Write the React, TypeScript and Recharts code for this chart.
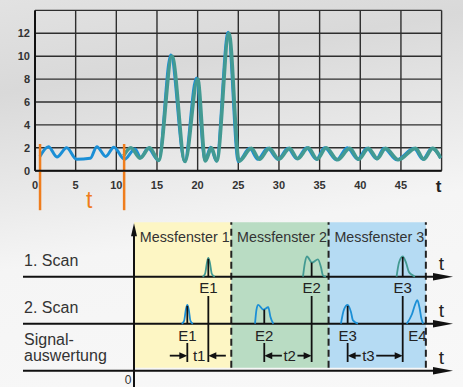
import {
  LineChart,
  ComposedChart,
  Line,
  XAxis,
  YAxis,
  CartesianGrid,
  ReferenceLine,
  ReferenceDot,
  ReferenceArea,
} from 'recharts';

// ---- oberes Diagramm: Signal über t ----
const xTicks = [0, 5, 10, 15, 20, 25, 30, 35, 40, 45, 50];
const yTicks = [0, 2, 4, 6, 8, 10, 12, 14];

// Scan 2 (blau)
const blueT = [0.6, 1.65, 2.7, 3.9, 5.1, 6.8, 7.6, 8.7, 9.7, 11.0, 12.3, 13.0, 13.9, 15.2, 16.7, 18.4, 19.85, 20.9, 21.6, 22.3, 23.75, 25.0, 26.4, 27.4, 28.6, 29.9, 31.1, 32.2, 33.4, 34.6, 35.6, 37.1, 38.4, 39.7, 40.8, 42.0, 42.9, 44.5, 46.6, 47.7, 48.8, 49.9];
const blueV = [1.25, 2.1, 1.2, 2.0, 1.0, 1.08, 2.1, 1.25, 2.05, 1.0, 1.9, 1.15, 1.95, 0.9, 10.1, 0.8, 8.1, 0.9, 2.05, 0.85, 12.1, 0.8, 1.95, 1.0, 1.95, 1.0, 1.95, 1.05, 2.0, 1.0, 2.0, 0.95, 2.0, 1.0, 1.95, 1.05, 1.95, 0.95, 1.95, 1.0, 1.95, 1.1];

// Scan 1 (petrol)
const tealT = [10.9, 11.8, 12.9, 14.1, 15.2, 16.85, 18.45, 20.0, 20.95, 21.7, 22.35, 23.85, 25.1, 26.6, 27.6, 28.8, 30.0, 31.3, 32.3, 33.6, 34.7, 35.8, 37.2, 38.7, 39.8, 41.0, 42.1, 43.1, 44.7, 46.8, 47.8, 48.9, 49.9];
const tealV = [1.3, 2.0, 1.1, 2.0, 0.9, 10.0, 0.8, 8.0, 0.85, 2.0, 0.85, 12.0, 0.85, 1.95, 1.0, 1.95, 1.0, 1.95, 1.05, 2.0, 1.0, 2.0, 0.95, 1.95, 1.0, 1.95, 1.05, 1.95, 0.95, 1.95, 1.0, 1.95, 1.1];

const tWindow = [0.62, 10.96];

// ---- unteres Schema: Messfenster ----
const windowNames = ['Messfenster 1', 'Messfenster 2', 'Messfenster 3'];
const windowFrom = [0, 10, 20];
const windowTo = [10, 20, 30];
const windowColors = ['#fdf6c4', '#b9dcc3', '#b5dbf3'];
const scanLevels = [2, 1, 0];
const rowLabels = ['1. Scan', '2. Scan', 'Signal-', 'auswertung'];
const rowLabelY = [2.36, 1.36, 0.66, 0.32];

// Peaks 1. Scan
const e1s1X = [7.05, 7.3, 7.5, 7.64, 7.8, 8.0, 8.3];
const e1s1Y = [2.0, 2.06, 2.3, 2.4, 2.3, 2.06, 2.0];
const e2s1X = [17.37, 17.57, 17.78, 18.29, 18.91, 19.22, 19.42, 19.73];
const e2s1Y = [2.0, 2.3, 2.43, 2.3, 2.37, 2.2, 2.03, 2.0];
const e3s1X = [26.99, 27.24, 27.62, 27.96, 28.26, 28.57, 28.88];
const e3s1Y = [2.0, 2.3, 2.43, 2.3, 2.1, 2.04, 2.0];
// Peaks 2. Scan
const e1s2X = [4.9, 5.15, 5.33, 5.48, 5.63, 5.8, 6.05];
const e1s2Y = [1.0, 1.06, 1.3, 1.4, 1.3, 1.06, 1.0];
const e2s2X = [12.44, 12.59, 12.77, 13.29, 13.8, 14.02, 14.32];
const e2s2Y = [1.0, 1.3, 1.4, 1.3, 1.35, 1.15, 1.0];
const e3s2X = [21.27, 21.58, 21.96, 22.3, 22.51, 23.02];
const e3s2Y = [1.0, 1.3, 1.4, 1.25, 1.07, 1.0];
const e4s2X = [28.03, 28.57, 28.88, 29.12, 29.34, 29.55, 29.73];
const e4s2Y = [1.0, 1.2, 1.4, 1.5, 1.35, 1.1, 1.0];

const scan1Names = ['E1', 'E2', 'E3'];
const scan1Pos = [7.64, 18.26, 27.62];
const scan1Top = [2.38, 2.3, 2.42];
const scan2Names = ['E1', 'E2', 'E3', 'E4'];
const scan2Pos = [5.48, 13.39, 21.96, 29.14];
const scan2Top = [1.38, 1.3, 1.38];

const tNames = ['t1', 't2', 't3'];
const tFrom = [5.48, 13.39, 21.96];
const tTo = [7.64, 18.26, 27.62];
const tLabelX = [6.7, 16.0, 24.1];

const BLUE = '#1b8fd6';
const TEAL = '#439a92';
const FONT = '"Liberation Sans", Arial, sans-serif';

const toPts = (xs: number[], ys: number[]) => xs.map((x, i) => ({ x, y: ys[i] }));

// Linie mit Pfeilspitze am Ende
function arrow(headLen: number, headHalf: number, width: number) {
  return (p: any) => {
    const { x1, y1, x2, y2 } = p;
    const dx = x2 - x1;
    const dy = y2 - y1;
    const len = Math.hypot(dx, dy) || 1;
    const ux = dx / len;
    const uy = dy / len;
    const bx = x2 - ux * headLen;
    const by = y2 - uy * headLen;
    const px = -uy * headHalf;
    const py = ux * headHalf;
    return (
      <g>
        <line x1={x1} y1={y1} x2={bx + ux} y2={by + uy} stroke="#111" strokeWidth={width} />
        <polygon points={`${x2},${y2} ${bx + px},${by + py} ${bx - px},${by - py}`} fill="#111" />
      </g>
    );
  };
}

const txt = (value: string, size: number, color: string, anchor: string = 'middle', weight: string = 'normal') => (p: any) => (
  <text x={p.cx} y={p.cy} dy="0.36em" textAnchor={anchor} fontSize={size} fill={color} fontWeight={weight} fontFamily={FONT}>
    {value}
  </text>
);

const XTick = (p: any) => {
  const v = p.payload.value;
  if (v === 50) {
    return (
      <text x={p.x - 3} y={p.y + 21} textAnchor="middle" fontSize={17} fontWeight="bold" fill="#222" fontFamily={FONT}>
        t
      </text>
    );
  }
  return (
    <text x={p.x} y={p.y + 18} textAnchor="middle" fontSize={11} fontWeight="bold" fill="#333" fontFamily={FONT}>
      {v}
    </text>
  );
};

const YTick = (p: any) => {
  const v = p.payload.value;
  if (v === 14) return <g />;
  return (
    <text x={p.x - 5} y={p.y + 4} textAnchor="end" fontSize={11} fontWeight="bold" fill="#333" fontFamily={FONT}>
      {v}
    </text>
  );
};

export default function App() {
  const blueData = toPts(blueT, blueV);
  const tealData = toPts(tealT, tealV);

  const peaks1 = [toPts(e1s1X, e1s1Y), toPts(e2s1X, e2s1Y), toPts(e3s1X, e3s1Y)];
  const peaks2 = [toPts(e1s2X, e1s2Y), toPts(e2s2X, e2s2Y), toPts(e3s2X, e3s2Y), toPts(e4s2X, e4s2Y)];

  return (
    <div
      style={{
        position: 'absolute',
        left: 0,
        top: 0,
        width: 463,
        height: 387,
        overflow: 'hidden',
        fontFamily: FONT,
        background: 'linear-gradient(170deg, #e2e2e2 0%, #d9d9d9 20%, #e9e9e9 42%, #f5f5f5 58%, #f8f8f8 100%)',
      }}
    >
      <div style={{ position: 'absolute', left: 0, top: 0 }}>
        <LineChart width={463} height={222} margin={{ top: 10.4, right: 21.4, bottom: 21.3, left: 5 }}>
          <CartesianGrid stroke="#2e2e2e" strokeWidth={1.4} />
          <XAxis
            type="number"
            dataKey="x"
            domain={[0, 50]}
            ticks={xTicks}
            interval={0}
            allowDataOverflow
            tickLine={false}
            tickSize={0}
            tickMargin={0}
            height={30}
            axisLine={{ stroke: '#111', strokeWidth: 2 }}
            tick={XTick}
          />
          <YAxis
            type="number"
            domain={[0, 14]}
            ticks={yTicks}
            interval={0}
            allowDataOverflow
            tickLine={false}
            tickSize={0}
            tickMargin={0}
            width={30}
            axisLine={{ stroke: '#111', strokeWidth: 2 }}
            tick={YTick}
          />
          <Line data={blueData} dataKey="y" type="monotone" stroke={BLUE} strokeWidth={3} dot={false} isAnimationActive={false} />
          <Line data={tealData} dataKey="y" type="monotone" stroke={TEAL} strokeWidth={3.6} dot={false} isAnimationActive={false} />
          {tWindow.map((x) => (
            <ReferenceLine
              key={x}
              segment={[{ x, y: 2.33 }, { x, y: -3.45 }]}
              stroke="#ef7d1d"
              strokeWidth={2.5}
              ifOverflow="visible"
            />
          ))}
          <ReferenceDot x={6.65} y={-2.55} r={0} ifOverflow="visible" shape={txt('t', 23, '#ef7d1d')} />
        </LineChart>
      </div>

      <div style={{ position: 'absolute', left: 0, top: 210 }}>
        <ComposedChart width={463} height={177} margin={{ top: 5, right: 10, bottom: 0, left: 23 }}>
          <XAxis type="number" dataKey="x" domain={[-11.41, 32.79]} allowDataOverflow hide />
          <YAxis type="number" domain={[-0.347, 3.313]} allowDataOverflow hide />
          {windowNames.map((n, i) => (
            <ReferenceArea
              key={n}
              x1={windowFrom[i]}
              x2={windowTo[i]}
              y1={0.06}
              y2={3.16}
              fill={windowColors[i]}
              fillOpacity={1}
              stroke="none"
              ifOverflow="visible"
            />
          ))}
          {windowTo.map((x) => (
            <ReferenceLine
              key={'d' + x}
              segment={[{ x, y: 0.06 }, { x, y: 3.16 }]}
              stroke="#222"
              strokeWidth={2}
              strokeDasharray="7 4"
              ifOverflow="visible"
            />
          ))}
          {windowNames.map((n, i) => (
            <ReferenceDot key={'l' + n} x={windowFrom[i] + 0.6} y={2.85} r={0} ifOverflow="visible" shape={txt(n, 14.3, '#333', 'start')} />
          ))}
          {scanLevels.map((lv) => (
            <ReferenceLine
              key={'b' + lv}
              segment={[{ x: -11.41, y: lv }, { x: 32.79, y: lv }]}
              ifOverflow="visible"
              shape={arrow(20, 3.8, 2)}
            />
          ))}
          <ReferenceLine segment={[{ x: 0, y: -0.4 }, { x: 0, y: 3.14 }]} ifOverflow="visible" shape={arrow(13, 3, 2)} />
          {scanLevels.map((lv) => (
            <ReferenceDot key={'t' + lv} x={31.6} y={lv + 0.29} r={0} ifOverflow="visible" shape={txt('t', 19, '#222')} />
          ))}
          {rowLabels.map((l, i) => (
            <ReferenceDot key={l} x={-11.3} y={rowLabelY[i]} r={0} ifOverflow="visible" shape={txt(l, 16, '#333', 'start')} />
          ))}
          <ReferenceDot x={-0.6} y={-0.2} r={0} ifOverflow="visible" shape={txt('0', 12, '#333')} />

          {peaks1.map((d, i) => (
            <Line key={'p1' + i} data={d} dataKey="y" type="monotone" stroke={TEAL} strokeWidth={1.8} dot={false} isAnimationActive={false} />
          ))}
          {peaks2.map((d, i) => (
            <Line key={'p2' + i} data={d} dataKey="y" type="monotone" stroke={BLUE} strokeWidth={1.8} dot={false} isAnimationActive={false} />
          ))}

          {scan1Pos.map((x, i) => (
            <ReferenceLine key={'c1' + i} segment={[{ x, y: 2 }, { x, y: scan1Top[i] }]} stroke="#111" strokeWidth={1.8} ifOverflow="visible" />
          ))}
          {scan2Top.map((top, i) => (
            <ReferenceLine key={'c2' + i} segment={[{ x: scan2Pos[i], y: 1 }, { x: scan2Pos[i], y: top }]} stroke="#111" strokeWidth={1.8} ifOverflow="visible" />
          ))}
          {scan1Pos.map((x, i) => (
            <ReferenceLine key={'v1' + i} segment={[{ x, y: 1.59 }, { x, y: 0.185 }]} stroke="#111" strokeWidth={1.8} ifOverflow="visible" />
          ))}
          {scan2Top.map((_, i) => (
            <ReferenceLine key={'v2' + i} segment={[{ x: scan2Pos[i], y: 0.59 }, { x: scan2Pos[i], y: 0.185 }]} stroke="#111" strokeWidth={1.8} ifOverflow="visible" />
          ))}
          {scan1Names.map((n, i) => (
            <ReferenceDot key={'n1' + i} x={scan1Pos[i]} y={1.775} r={0} ifOverflow="visible" shape={txt(n, 15, '#222')} />
          ))}
          {scan2Names.map((n, i) => (
            <ReferenceDot key={'n2' + i} x={scan2Pos[i]} y={0.74} r={0} ifOverflow="visible" shape={txt(n, 15, '#222')} />
          ))}

          {tNames.map((n, i) => (
            <ReferenceDot key={'tl' + n} x={tLabelX[i]} y={0.32} r={0} ifOverflow="visible" shape={txt(n, 15, '#222')} />
          ))}
          {tNames.map((n, i) =>
            i === 0 ? (
              <ReferenceLine key={'ta' + n} segment={[{ x: tFrom[i] - 1.8, y: 0.32 }, { x: tFrom[i], y: 0.32 }]} ifOverflow="visible" shape={arrow(8, 3.5, 1.8)} />
            ) : (
              <ReferenceLine key={'ta' + n} segment={[{ x: tLabelX[i] - 0.8, y: 0.32 }, { x: tFrom[i], y: 0.32 }]} ifOverflow="visible" shape={arrow(8, 3.5, 1.8)} />
            )
          )}
          {tNames.map((n, i) =>
            i === 0 ? (
              <ReferenceLine key={'tb' + n} segment={[{ x: tTo[i] + 1.8, y: 0.32 }, { x: tTo[i], y: 0.32 }]} ifOverflow="visible" shape={arrow(8, 3.5, 1.8)} />
            ) : (
              <ReferenceLine key={'tb' + n} segment={[{ x: tLabelX[i] + 0.8, y: 0.32 }, { x: tTo[i], y: 0.32 }]} ifOverflow="visible" shape={arrow(8, 3.5, 1.8)} />
            )
          )}
        </ComposedChart>
      </div>
    </div>
  );
}
